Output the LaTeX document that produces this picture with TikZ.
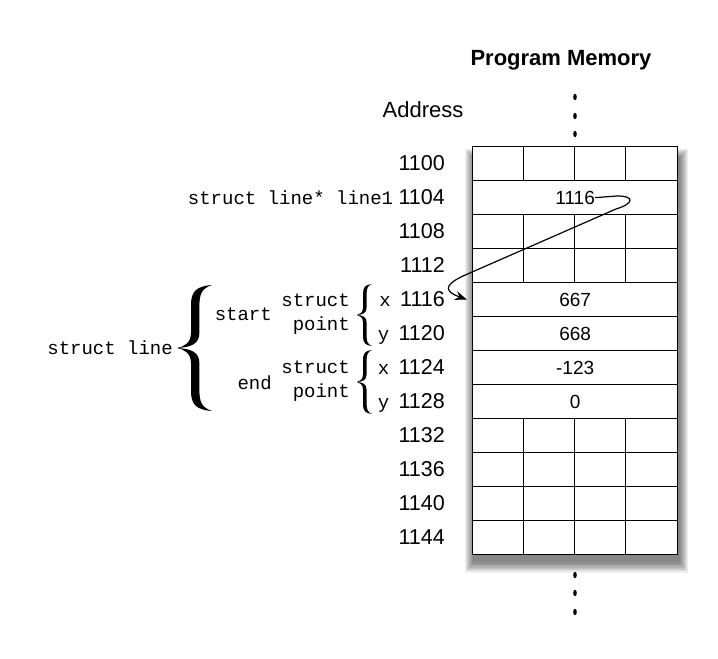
\documentclass[tikz,border=0pt]{standalone}
\usepackage{fontspec}
\setmainfont{Liberation Sans}
\setmonofont{Liberation Mono}
\usetikzlibrary{arrows.meta}

\tikzset{
	addr/.style={anchor=east, inner sep=0pt, font=\fontsize{21.5}{24}\selectfont},
	code/.style={inner sep=0pt, font=\ttfamily\fontsize{19}{23.5}\selectfont},
	val/.style={inner sep=0pt, font=\fontsize{19}{22}\selectfont},
	cellrow/.style={draw, fill=white, line width=1.3pt, minimum width=205pt, minimum height=34pt, inner sep=0pt, anchor=north west},
	pics/curly/.style 2 args={code={
		\fill [xscale=#1, yscale=#2] ( 1, 1 )
			.. controls ( 0.55, 0.98 ) and ( 0.40, 0.90 ) .. ( 0.40, 0.68 ) -- ( 0.40, 0.24 )
			.. controls ( 0.40, 0.08 ) and ( 0.20, 0.02 ) .. ( 0, 0 )
			.. controls ( 0.20, -0.02 ) and ( 0.40, -0.08 ) .. ( 0.40, -0.24 ) -- ( 0.40, -0.68 )
			.. controls ( 0.40, -0.90 ) and ( 0.55, -0.98 ) .. ( 1, -1 )
			.. controls ( 0.74, -0.95 ) and ( 0.64, -0.88 ) .. ( 0.64, -0.68 ) -- ( 0.64, -0.24 )
			.. controls ( 0.64, -0.06 ) and ( 0.38, -0.01 ) .. ( 0, 0 )
			.. controls ( 0.38, 0.01 ) and ( 0.64, 0.06 ) .. ( 0.64, 0.24 ) -- ( 0.64, 0.68 )
			.. controls ( 0.64, 0.88 ) and ( 0.74, 0.95 ) .. ( 1, 1 ) -- cycle;
	}}
}

\begin{document}
\begin{tikzpicture}[x=1pt, y=-1pt]
		\fill [white] ( 0, 0 ) rectangle ( 718, 659 );
		\useasboundingbox ( 0, 0 ) rectangle ( 718, 659 );

		% заголовки
		\node [font=\bfseries\fontsize{22}{24}\selectfont] (title) at ( 561, 60 ) {Program Memory};
		\node [font=\fontsize{22}{24}\selectfont] (addrtitle) at ( 423, 110 ) {Address};

		% тень
		\foreach \i in {1,...,9}
			\fill [black, opacity=0.065] ( 474-\i, 158-\i ) rectangle ( 679+\i, 561+1.3*\i );

		% ячейки памяти
		\foreach \i in {0,...,11}
			\node [cellrow] (m\i) at ( 472, 146+34*\i ) {};
		\foreach \i in {0,2,3,8,9,10,11}
			\foreach \k in {1,2,3}
				\draw [line width=1.3pt] ([xshift=\k*51.25pt]m\i.north west) -- ([xshift=\k*51.25pt]m\i.south west);

		% значения
		\node [val] (ptr) at (m1) {1116};
		\node [val] (v4) at (m4) {667};
		\node [val] (v5) at (m5) {668};
		\node [val] (v6) at (m6) {-123};
		\node [val] (v7) at (m7) {0};

		% адреса
		\foreach \i in {0,...,11} {
			\pgfmathtruncatemacro\n{1100+4*\i}
			\node [addr] (a\i) at ( 445, 163+34*\i ) {\n};
		}

		% многоточия
		\foreach \y in {97,116,134,575,593,612}
			\fill ( 575, \y ) ellipse ( 1.8pt and 3.2pt );

		% указатель
		\node [code, anchor=base east] (ptrname) at ([xshift=-5pt]a1.base west) {struct line* line1};
		\coordinate (tgt) at ([xshift=-5pt]m4.west);
		\draw [-{Stealth[length=12pt,width=9pt]}, line width=1.2pt] (ptr.east) -- ( 617, 196 )
			.. controls ( 636, 196 ) and ( 633, 204 ) .. ( 616, 209 ) -- ( 463, 276 )
			.. controls ( 442, 286 ) and ( 446, 292 ) .. (tgt);

		% поля структуры
		\node [code, anchor=base east] (x1) at ([xshift=-9pt]a4.base west) {x};
		\node [code, anchor=base east] (y1) at ([xshift=-9pt]a5.base west) {y};
		\node [code, anchor=base east] (x2) at ([xshift=-9pt]a6.base west) {x};
		\node [code, anchor=base east] (y2) at ([xshift=-9pt]a7.base west) {y};
		\pic at ( 357, 315 ) {curly={15}{31}};
		\pic at ( 357, 382 ) {curly={15}{32}};
		\node [code, align=right, anchor=east] (pt1) at ( 350, 314 ) {struct\\point};
		\node [code, align=right, anchor=east] (pt2) at ( 350, 381 ) {struct\\point};
		\node [code, anchor=east] (start) at ( 272, 314 ) {start};
		\node [code, anchor=east] (end) at ( 272, 383 ) {end};
		\pic at ( 177, 348 ) {curly={35}{63}};
		\node [code, anchor=east] (line) at ( 173, 348 ) {struct line};
	\end{tikzpicture}
\end{document}
